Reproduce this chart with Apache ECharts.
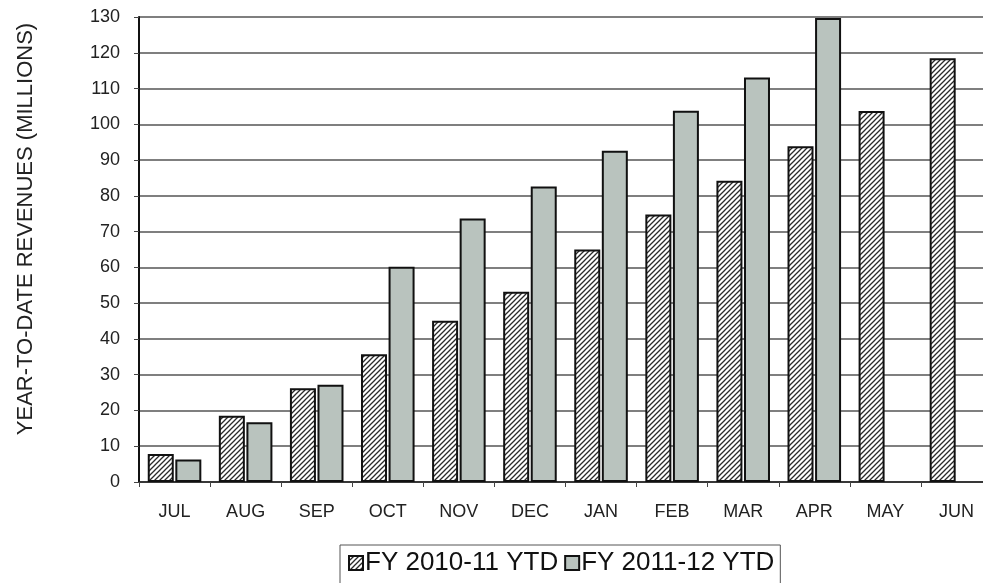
<!DOCTYPE html>
<html>
<head>
<meta charset="utf-8">
<script src="https://cdn.jsdelivr.net/npm/echarts@6/dist/echarts.min.js"></script>
<style>
  html, body { margin: 0; padding: 0; background: #ffffff; }
  #chart { width: 983px; height: 583px; }
</style>
</head>
<body>
<div id="chart"></div>
<script>
// Monthly year-to-date revenues, in millions
const months = ['JUL', 'AUG', 'SEP', 'OCT', 'NOV', 'DEC', 'JAN', 'FEB', 'MAR', 'APR', 'MAY', 'JUN'];
const fy1011 = [7.8, 18.5, 26.2, 35.7, 45.1, 53.2, 65.0, 74.8, 84.2, 93.9, 103.7, 118.5];
const fy1112 = [6.3, 16.7, 27.2, 60.2, 73.7, 82.6, 92.6, 103.8, 113.1, 129.7, null, null];
const seriesNames = ['FY 2010-11 YTD', 'FY 2011-12 YTD'];
const yTitle = 'YEAR-TO-DATE REVENUES (MILLIONS)';

// Diagonal hatch fill for the prior-year bars
function hatchPattern() {
  const s = 5;
  const c = document.createElement('canvas');
  c.width = s; c.height = s;
  const g = c.getContext('2d');
  g.fillStyle = '#ffffff';
  g.fillRect(0, 0, s, s);
  g.strokeStyle = '#2a2a2a';
  g.lineWidth = 1.3;
  g.beginPath();
  g.moveTo(-1, s + 1); g.lineTo(s + 1, -1);
  g.moveTo(-1, 1); g.lineTo(1, -1);
  g.moveTo(s - 1, s + 1); g.lineTo(s + 1, s - 1);
  g.stroke();
  return c;
}

const chart = echarts.init(document.getElementById('chart'), null, { renderer: 'canvas' });
const font = 'Liberation Sans, Arial, sans-serif';

chart.setOption({
  backgroundColor: '#ffffff',
  animation: false,
  textStyle: { fontFamily: font },
  // plot runs a little past the right edge of the canvas
  grid: {
    left: 139, top: 17, height: 465, width: 853,
    containLabel: false,
    outerBoundsMode: 'none'
  },
  graphic: [{
    type: 'text',
    x: 26,
    y: 229,
    rotation: Math.PI / 2,
    style: {
      text: yTitle,
      font: '22px ' + font,
      fill: '#222',
      align: 'center',
      verticalAlign: 'middle'
    }
  }],
  legend: {
    left: 340,
    top: 545,
    padding: [5, 6, 8, 8],
    borderColor: '#555',
    borderWidth: 1,
    itemWidth: 14,
    itemHeight: 14,
    itemGap: 6,
    icon: 'rect',
    textStyle: { fontSize: 26, color: '#111', fontFamily: font, padding: [0, 0, 0, -3] },
    data: seriesNames
  },
  xAxis: {
    type: 'category',
    data: months,
    axisLine: { lineStyle: { color: '#222', width: 1.5 } },
    axisTick: { show: true, length: 5, lineStyle: { color: '#444' } },
    axisLabel: { fontSize: 18, color: '#222', margin: 21, fontFamily: font }
  },
  yAxis: {
    type: 'value',
    min: 0,
    max: 130,
    interval: 10,
    axisLine: { show: true, lineStyle: { color: '#111', width: 2 } },
    axisTick: { show: true, length: 5, lineStyle: { color: '#444' } },
    axisLabel: { fontSize: 18, color: '#222', margin: 19, fontFamily: font },
    splitLine: { lineStyle: { color: '#555', width: 1.5 } }
  },
  series: [
    {
      name: seriesNames[0],
      type: 'bar',
      data: fy1011,
      barWidth: 26,
      barGap: '6%',
      itemStyle: {
        color: { image: hatchPattern(), repeat: 'repeat' },
        borderColor: '#111',
        borderWidth: 2
      }
    },
    {
      name: seriesNames[1],
      type: 'bar',
      data: fy1112,
      barWidth: 26,
      barGap: '6%',
      itemStyle: {
        color: '#b9c3be',
        borderColor: '#111',
        borderWidth: 2
      }
    }
  ]
});
</script>
</body>
</html>
